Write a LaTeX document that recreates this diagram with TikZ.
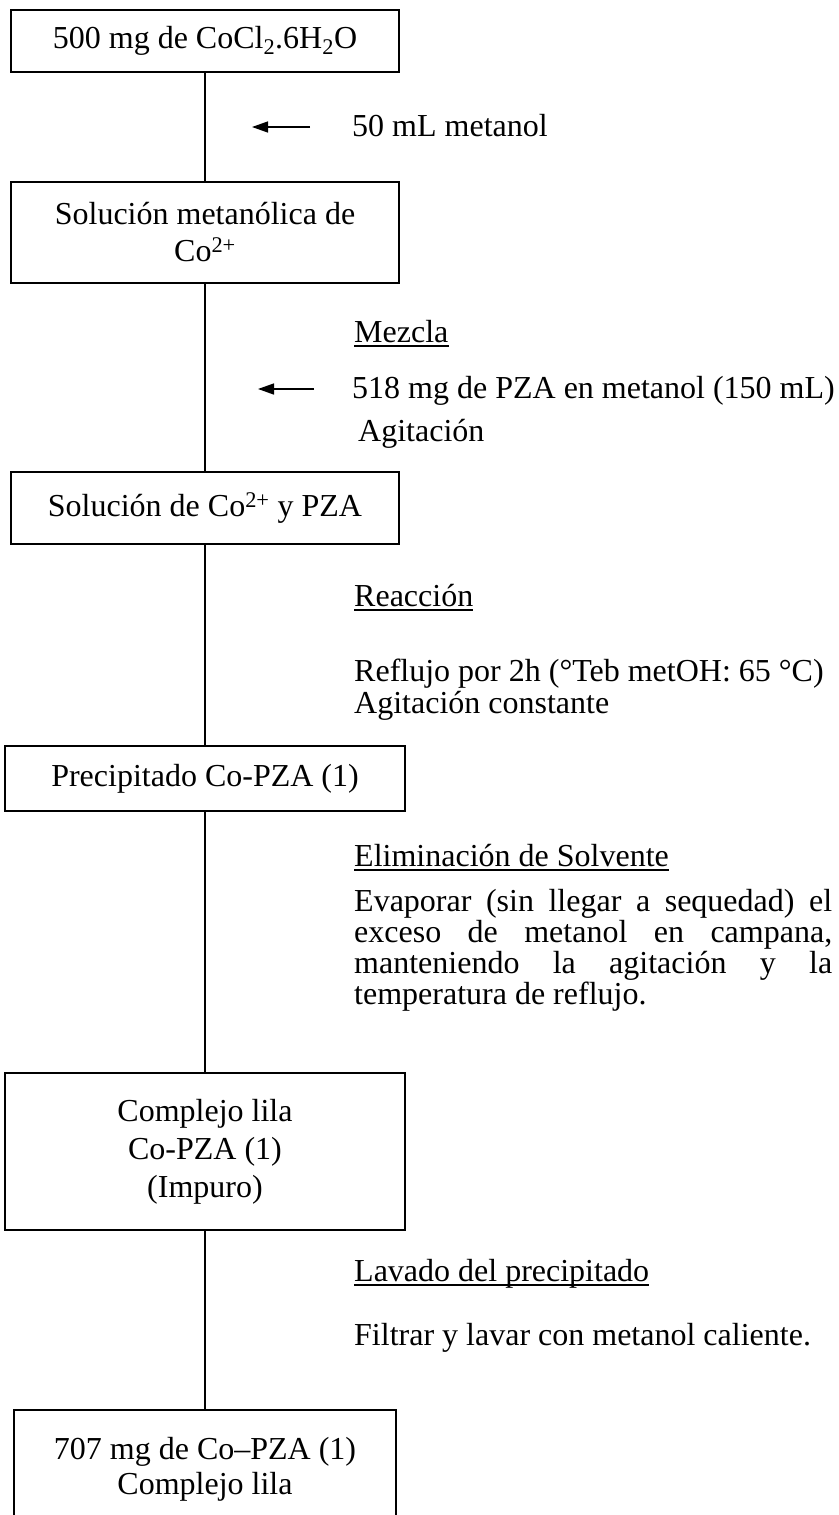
\documentclass[tikz,border=0pt]{standalone}
\usepackage{fontspec}
\setmainfont{Liberation Serif}
\usetikzlibrary{arrows.meta}
\begin{document}
\begin{tikzpicture}[x=1pt,y=-1pt,
  font=\fontsize{32}{37}\selectfont,
  box/.style={draw, line width=1.8pt, align=center, inner sep=0pt, fill=white},
  flow/.style={line width=1.4pt},
  feed/.style={line width=1.4pt, -{Triangle[length=16pt,width=11pt]}},
  txt/.style={anchor=base west, inner sep=0pt},
  ul/.style={line width=1.3pt}]
\useasboundingbox (0,0) rectangle (838,1515);

% boxes
\node[box, minimum width=388pt, minimum height=62pt] (b1) at (205,41) {\raisebox{-2pt}{500 mg de CoCl\textsubscript{2}.6H\textsubscript{2}O}};
\node[box, minimum width=388pt, minimum height=101pt] (b2) at (205,232.5) {Solución metanólica de\\Co\textsuperscript{2+}};
\node[box, minimum width=388pt, minimum height=72pt] (b3) at (205,508) {Solución de Co\textsuperscript{2+} y PZA};
\node[box, minimum width=400pt, minimum height=65pt] (b4) at (205,778.5) {Precipitado Co-PZA (1)};
\node[box, minimum width=400pt, minimum height=157pt] (b6) at (205,1151.5) {\raisebox{-4pt}{\fontsize{32}{38}\selectfont\begin{tabular}{@{}c@{}}Complejo lila\\Co-PZA (1)\\(Impuro)\end{tabular}}};
\node[box, minimum width=382pt, minimum height=119pt, font=\fontsize{32}{35}\selectfont] (b7) at (205,1469.5) {707 mg de Co--PZA (1)\\Complejo lila};

% vertical flow
\draw[flow] (b1.south) -- (b2.north);
\draw[flow] (b2.south) -- (b3.north);
\draw[flow] (b3.south) -- (b4.north);
\draw[flow] (b4.south) -- (b6.north);
\draw[flow] (b6.south) -- (b7.north);

% step 1
\coordinate (f1s) at (310,127);
\coordinate (f1e) at (252,127);
\draw[feed] (f1s) -- (f1e);
\node[txt] (t1) at (352,136) {50 mL metanol};

% step 2
\node[txt] (h1) at (354,342) {Mezcla};
\draw[ul] ([yshift=-4pt]h1.base west) -- ([yshift=-4pt]h1.base east);
\coordinate (f2s) at (314,389);
\coordinate (f2e) at (258,389);
\draw[feed] (f2s) -- (f2e);
\node[txt] (t2) at (352,398) {518 mg de PZA en metanol (150 mL)};
\node[txt] (t3) at (358,441) {Agitación};

% step 3
\node[txt] (h2) at (354,606) {Reacción};
\draw[ul] ([yshift=-4pt]h2.base west) -- ([yshift=-4pt]h2.base east);
\node[txt] (t4) at (354,681) {Reflujo por 2h (°Teb metOH: 65 °C)};
\node[txt] (t5) at (354,713) {Agitación constante};

% step 4
\node[txt] (h3) at (354,866) {Eliminación de Solvente};
\draw[ul] ([yshift=-4pt]h3.base west) -- ([yshift=-4pt]h3.base east);
\node[txt] (p1) at (354,911) {\makebox[478pt][s]{Evaporar (sin llegar a sequedad) el}};
\node[txt] (p2) at (354,942) {\makebox[478pt][s]{exceso de metanol en campana,}};
\node[txt] (p3) at (354,973) {\makebox[478pt][s]{manteniendo la agitación y la}};
\node[txt] (p4) at (354,1004) {temperatura de reflujo.};

% step 5
\node[txt] (h4) at (354,1281) {Lavado del precipitado};
\draw[ul] ([yshift=-4pt]h4.base west) -- ([yshift=-4pt]h4.base east);
\node[txt] (t6) at (354,1345) {Filtrar y lavar con metanol caliente.};
\end{tikzpicture}
\end{document}
